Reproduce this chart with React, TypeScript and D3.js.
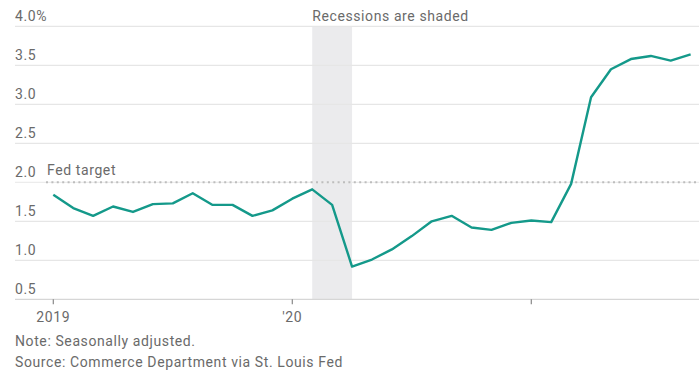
import React from "react";
import * as d3 from "d3";

const months: string[] = [
  "2019-01","2019-02","2019-03","2019-04","2019-05","2019-06","2019-07","2019-08","2019-09","2019-10","2019-11","2019-12",
  "2020-01","2020-02","2020-03","2020-04","2020-05","2020-06","2020-07","2020-08","2020-09","2020-10","2020-11","2020-12",
  "2021-01","2021-02","2021-03","2021-04","2021-05","2021-06","2021-07","2021-08","2021-09",
];
const values: number[] = [
  1.84, 1.67, 1.57, 1.69, 1.62, 1.72, 1.73, 1.86, 1.71, 1.71, 1.57, 1.64,
  1.79, 1.91, 1.71, 0.92, 1.01, 1.14, 1.31, 1.50, 1.57, 1.42, 1.39, 1.48,
  1.51, 1.49, 1.98, 3.09, 3.45, 3.58, 3.62, 3.56, 3.64,
];
const yTicks: number[] = [0.5, 1.0, 1.5, 2.0, 2.5, 3.0, 3.5, 4.0];
const xTickMonths: string[] = ["2019-01", "2020-01", "2021-01"];
const xTickLabels: string[] = ["2019", "'20", ""];
const recession: [string, string] = ["2020-02", "2020-04"];
const fedTarget = 2.0;
const noteLines: string[] = ["Note: Seasonally adjusted.", "Source: Commerce Department via St. Louis Fed"];

const W = 699;
const H = 380;
const FONT = "Roboto, 'Liberation Sans', sans-serif";
const TEXT = "#6a6a6a";
const LS = 0.6;

const idx = (m: string) => months.indexOf(m);

export default function App() {
  const x = d3.scaleLinear().domain([0, 24]).range([53.3, 531.3]);
  const y = d3.scaleLinear().domain([0.5, 4.0]).range([299.3, 26.3]);
  const line = d3
    .line<number>()
    .x((_, i) => x(i))
    .y((d) => y(d));

  const gridLeft = 15;
  const gridRight = W;
  const xPos = (m: string) => {
    const i = idx(m);
    if (i >= 0) return x(i);
    const [yy, mm] = m.split("-").map(Number);
    return x((yy - 2019) * 12 + (mm - 1));
  };
  const txt = { fontFamily: FONT, fontSize: 14, fill: TEXT, style: { letterSpacing: `${LS}px` } };

  return (
    <div style={{ position: "fixed", left: 0, top: 0 }}>
      <svg width={W} height={H} style={{ display: "block", background: "#fff" }}>
        {/* recession shade */}
        <rect
          x={xPos(recession[0])}
          y={y(4.0)}
          width={xPos(recession[1]) - xPos(recession[0])}
          height={y(0.5) - y(4.0)}
          fill="#ebebed"
        />
        {/* gridlines */}
        {yTicks.map((t) =>
          t === fedTarget ? null : (
            <line
              key={t}
              x1={gridLeft}
              x2={gridRight}
              y1={y(t)}
              y2={y(t)}
              stroke={t === 0.5 ? "#d6d6d6" : "#e6e6e6"}
              strokeWidth={1.3}
            />
          )
        )}
        <line x1={gridLeft} x2={gridRight} y1={y(fedTarget)} y2={y(fedTarget)} stroke="#ececec" strokeWidth={1.3} />
        <line
          x1={46}
          x2={gridRight}
          y1={y(fedTarget)}
          y2={y(fedTarget)}
          stroke="#bdbdbd"
          strokeWidth={2}
          strokeDasharray="2 3.4"
        />
        {/* y labels */}
        {yTicks.map((t) => (
          <text key={t} x={gridLeft} y={y(t) - 5} {...txt}>
            {t.toFixed(1) + (t === 4.0 ? "%" : "")}
          </text>
        ))}
        <text x={47} y={y(fedTarget) - 7} {...txt}>
          Fed target
        </text>
        <text x={xPos(recession[0])} y={y(4.0) - 5} {...txt}>
          Recessions are shaded
        </text>
        {/* x ticks */}
        {xTickMonths.map((m, i) => {
          const xi = xPos(m);
          return (
            <g key={m}>
              <line x1={xi} x2={xi} y1={y(0.5)} y2={y(0.5) + 5} stroke="#888" strokeWidth={1.2} />
              <text x={xi} y={322} textAnchor="middle" {...txt}>
                {xTickLabels[i]}
              </text>
            </g>
          );
        })}
        {/* data line */}
        <path d={line(values) || ""} fill="none" stroke="#14998a" strokeWidth={2.4} strokeLinejoin="round" />
        {/* notes */}
        {noteLines.map((n, i) => (
          <text key={n} x={gridLeft} y={345.5 + i * 21} {...txt}>
            {n}
          </text>
        ))}
      </svg>
    </div>
  );
}
